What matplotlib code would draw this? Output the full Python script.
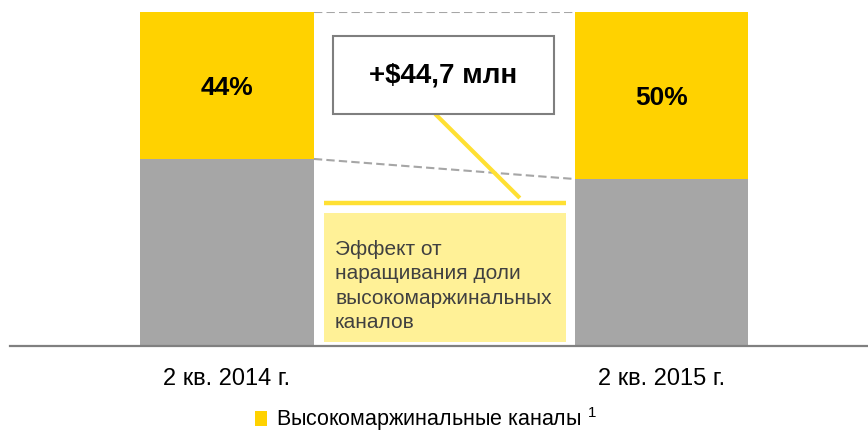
import matplotlib
matplotlib.use("Agg")
import matplotlib.pyplot as plt
from matplotlib.patches import Rectangle

plt.rcParams['font.family'] = ['Liberation Sans', 'DejaVu Sans']
plt.rcParams['mathtext.fontset'] = 'custom'
plt.rcParams['mathtext.rm'] = 'Liberation Sans'
plt.rcParams['mathtext.it'] = 'Liberation Sans'

# ---- data ----
categories = ["2 кв. 2014 г.", "2 кв. 2015 г."]
high_margin = [44, 50]          # % высокомаржинальные каналы
other = [56, 50]                # % прочие каналы
bar_labels = ["44%", "50%"]
effect_label = "+$44,7 млн"
effect_text = "Эффект от\nнаращивания доли\nвысокомаржинальных\nканалов"
legend_label = "Высокомаржинальные каналы $^{1}$"

YELLOW = "#FFD200"
GRAY = "#A6A6A6"
LIGHT_YELLOW = "#FFF197"
LINE_YELLOW = "#FFE033"

W, H = 868, 433
fig = plt.figure(figsize=(W / 100, H / 100), dpi=100)
# axes: x from px 10 to 868, y=0 at px 346, y=100 at px 12
ax = fig.add_axes([10 / W, (H - 346) / H, (868 - 10) / W, (346 - 12) / H])

x = [0, 1]
bw = 0.4
ax.bar(x, other, width=bw, color=GRAY, zorder=2)
ax.bar(x, high_margin, width=bw, bottom=other, color=YELLOW, zorder=2)

ax.set_xlim(-0.4994, 1.4753)
ax.set_ylim(0, 100)

for xi, o, hm, lab in zip(x, other, high_margin, bar_labels):
    ax.text(xi, o + hm / 2 - 0.8, lab, ha='center', va='center', fontsize=19,
            fontweight='bold', color='black', zorder=3)

# dashed connector lines between bars
ax.plot([x[0] + bw / 2, x[1] - bw / 2], [100, 100], ls=(0, (4, 2)),
        color=GRAY, lw=1.5, zorder=1)
ax.plot([x[0] + bw / 2, x[1] - bw / 2], [other[0], other[1]], ls=(0, (4, 2)),
        color=GRAY, lw=1.5, zorder=1)

# callout box
ax.add_patch(Rectangle((0.244, 69.5), 0.753 - 0.244, 92.8 - 69.5, facecolor='white',
                       edgecolor='#7F7F7F', lw=1.5, zorder=4))
ax.text((0.244 + 0.753) / 2, 81.0, effect_label, ha='center', va='center',
        fontsize=20, fontweight='bold', color='black', zorder=5)

# yellow pointer lines
ax.plot([0.479, 0.674], [69.5, 44.3], color=LINE_YELLOW, lw=3, zorder=3,
        solid_capstyle='butt')
ax.plot([0.223, 0.780], [42.8, 42.8], color=LINE_YELLOW, lw=3.2, zorder=3,
        solid_capstyle='butt')

# light yellow explanation box
ax.add_patch(Rectangle((0.223, 1.2), 0.780 - 0.223, 39.8 - 1.2,
                       facecolor=LIGHT_YELLOW, edgecolor='none', zorder=3))
ax.text(0.2486, 18.0, effect_text, ha='left', va='center', fontsize=15,
        color='#404040', linespacing=1.36, zorder=4)

# axes styling
for s in ['top', 'right', 'left']:
    ax.spines[s].set_visible(False)
ax.spines['bottom'].set_color('#808080')
ax.spines['bottom'].set_linewidth(1.6)
ax.spines['bottom'].set_zorder(5)
ax.set_yticks([])
ax.set_xticks(x)
ax.set_xticklabels(categories, fontsize=17)
ax.tick_params(axis='x', length=0, pad=16)

# legend
handle = Rectangle((0, 0), 1, 1, facecolor=YELLOW, edgecolor='none')
fig.legend([handle], [legend_label], loc='center',
           bbox_to_anchor=(426 / W, 1 - 419 / H), frameon=False, fontsize=15.5,
           handlelength=0.55, handleheight=0.75, handletextpad=0.4,
           borderpad=0.1)

fig.savefig("out.png", dpi=100)
